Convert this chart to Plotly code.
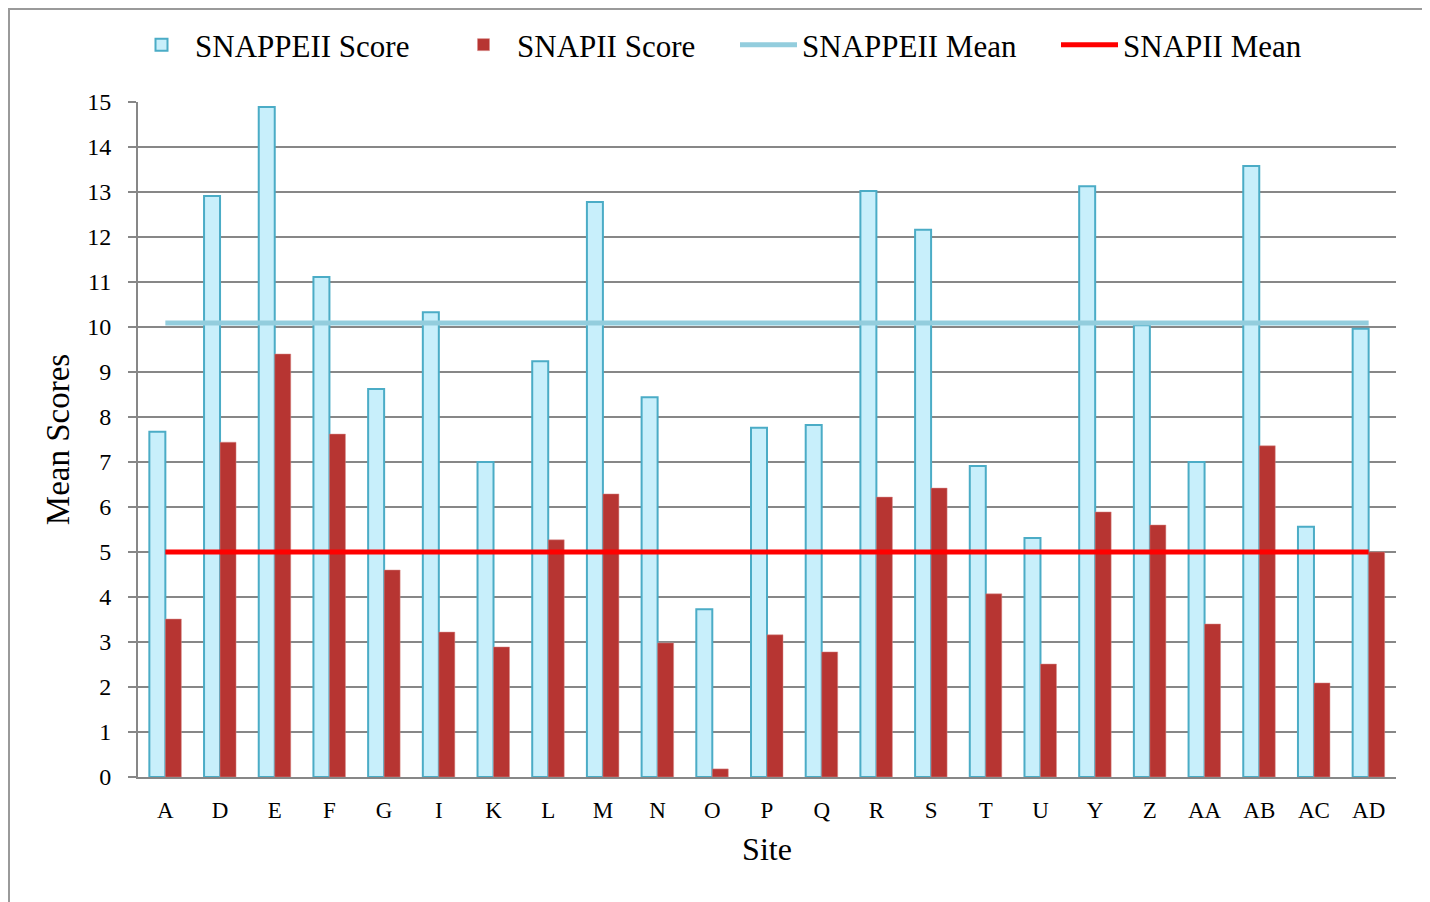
import plotly.graph_objects as go

sites = ["A", "D", "E", "F", "G", "I", "K", "L", "M", "N", "O", "P", "Q", "R",
         "S", "T", "U", "Y", "Z", "AA", "AB", "AC", "AD"]
snappeii_score = [7.67, 12.91, 14.89, 11.11, 8.62, 10.33, 7.0, 9.24, 12.78, 8.44, 3.73,
                  7.76, 7.82, 13.02, 12.16, 6.91, 5.31, 13.13, 10.04, 7.0, 13.58, 5.56, 9.96]
snapii_score = [3.51, 7.44, 9.4, 7.62, 4.6, 3.22, 2.89, 5.27, 6.29, 2.98, 0.18,
                3.16, 2.78, 6.22, 6.42, 4.07, 2.51, 5.89, 5.6, 3.4, 7.36, 2.09, 5.0]
snappeii_mean = 10.09
snapii_mean = 5.0
y_ticks = list(range(0, 16))

FONT = "Liberation Serif"
W, H = 1422, 894          # page body has an 8px margin
OFF = 8
PL, PR, PT, PB = 138 - OFF, 1396 - OFF, 102 - OFF, 777 - OFF  # plot area in figure px
PW, PH = PR - PL, PB - PT

fig = go.Figure()
fig.add_trace(go.Bar(
    x=sites, y=snappeii_score, name="SNAPPEII Score", legend="legend",
    marker=dict(color="#c8effb", line=dict(color="#4bacc6", width=2)),
))
fig.add_trace(go.Bar(
    x=sites, y=snapii_score, name="SNAPII Score", legend="legend2",
    marker=dict(color="#b73532", line=dict(color="#d98c8a", width=0.5)),
))
fig.add_trace(go.Scatter(
    x=sites, y=[snappeii_mean] * len(sites), name="SNAPPEII Mean", mode="lines",
    legend="legend3", line=dict(color="#93cddd", width=5),
))
fig.add_trace(go.Scatter(
    x=sites, y=[snapii_mean] * len(sites), name="SNAPII Mean", mode="lines",
    legend="legend4", line=dict(color="#ff0000", width=5),
))


def leg(text_start_px):
    return dict(
        orientation="h", xref="container", yref="container",
        x=(text_start_px - OFF - 67) / W, xanchor="left",
        y=1 - 37 / H, yanchor="middle",
        font=dict(family=FONT, size=31), bgcolor="rgba(0,0,0,0)",
        itemwidth=57,
    )


fig.update_layout(
    width=W, height=H,
    margin=dict(l=PL, r=W - PR, t=PT, b=H - PB),
    paper_bgcolor="white", plot_bgcolor="white",
    font=dict(family=FONT, color="black", size=22),
    barmode="group", bargap=0.415, bargroupgap=0,
    showlegend=True,
    legend=leg(195), legend2=leg(517), legend3=leg(802), legend4=leg(1123),
    xaxis=dict(
        title=dict(text="Site", font=dict(family=FONT, size=32), standoff=16),
        showgrid=False, showline=True, linecolor="#878787", linewidth=2,
        ticks="", ticklabelstandoff=11, tickfont=dict(size=23), automargin=False,
    ),
    yaxis=dict(
        title=dict(text="Mean Scores", font=dict(family=FONT, size=33), standoff=8),
        range=[0, 15], tickvals=y_ticks, showgrid=True, gridcolor="#878787", gridwidth=2,
        showline=True, linecolor="#878787", linewidth=2,
        ticks="outside", ticklen=8, tickcolor="#878787", tickwidth=2,
        ticklabelstandoff=12,
        tickfont=dict(size=24), zeroline=False, automargin=False,
    ),
    shapes=[dict(
        type="rect", xref="paper", yref="paper",
        x0=(1 - PL) / PW, x1=(1425 - OFF - PL) / PW,
        y0=(PB - H - 20) / PH, y1=(PB - 1) / PH,
        line=dict(color="#9a9a9a", width=2), fillcolor="rgba(0,0,0,0)", layer="below",
    )],
)

fig.write_html("out.html")
